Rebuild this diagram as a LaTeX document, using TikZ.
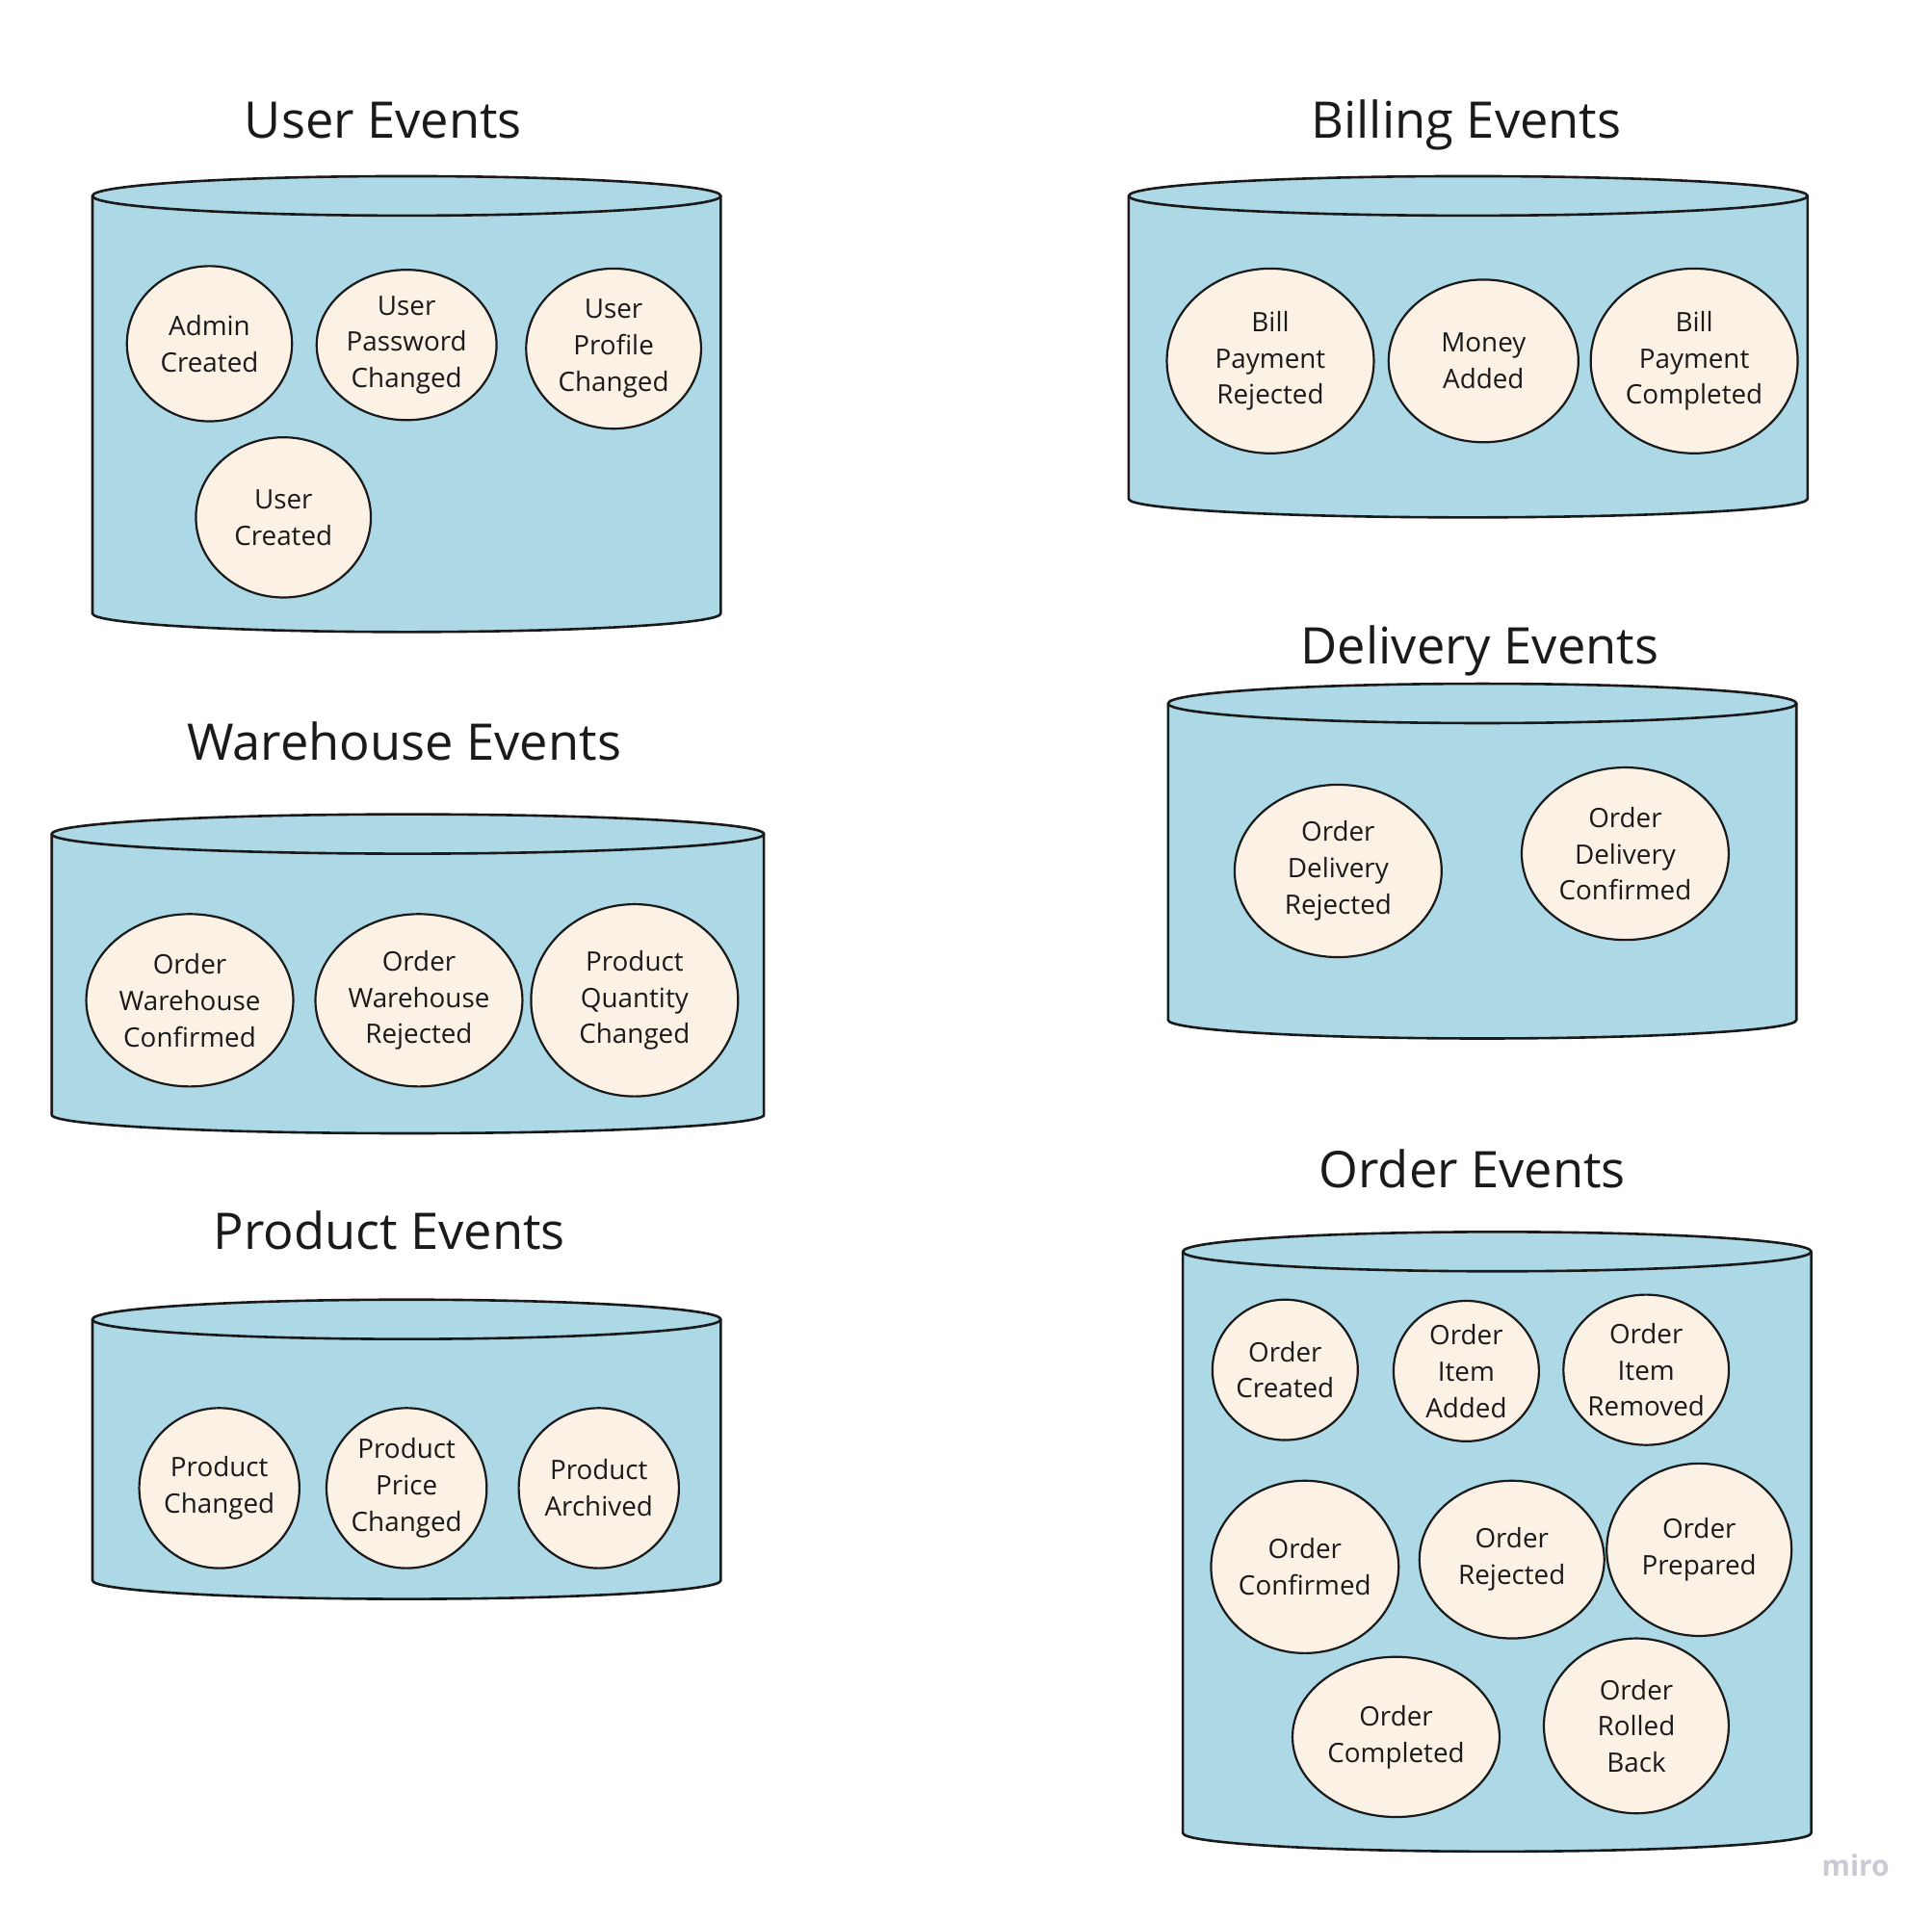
\documentclass[tikz,border=0pt]{standalone}
\usepackage{fontspec}
\setmainfont{Open Sans}
\usetikzlibrary{shapes.geometric}
\definecolor{cylfill}{HTML}{ADD8E6}
\definecolor{evfill}{HTML}{FBF1E4}
\definecolor{ink}{HTML}{1A1A1A}
\definecolor{wmgray}{HTML}{CACAD2}
\tikzset{
  cylstyle/.style={draw=ink, fill=cylfill, line width=1.3pt, line join=round},
  evnode/.style={ellipse, draw=ink, fill=evfill, line width=1.1pt, inner sep=0pt,
    align=center, text=ink, font=\fontsize{13.9pt}{18.9pt}\selectfont},
  ev/.style 2 args={minimum width={2*#1*0.6396pt}, minimum height={2*#2*0.6396pt}},
  titlenode/.style={text=ink, font=\fontsize{26.2pt}{31pt}\selectfont, inner sep=0pt,
    text height=0.76em, text depth=0.24em},
}
% #1 left, #2 right, #3 top-ellipse centre y, #4 bottom y
\newcommand\evstore[4]{%
  \path[cylstyle] (#1,#3) -- (#1,#4)
    .. controls (#1,{#4+8.28}) and ({(#1+#2)/2-0.552*(#2-#1)/2},{#4+15}) .. ({(#1+#2)/2},{#4+15})
    .. controls ({(#1+#2)/2+0.552*(#2-#1)/2},{#4+15}) and (#2,{#4+8.28}) .. (#2,#4)
    -- (#2,#3) -- cycle;
  \path[cylstyle] ({(#1+#2)/2},#3) ellipse [x radius={(#2-#1)/2}, y radius=16];
}
\begin{document}
\begin{tikzpicture}[x=0.6396pt, y=-0.6396pt]
\useasboundingbox[fill=white] (0,0) rectangle (1568,1558);

% ---------- User Events ----------
\node[titlenode] (tUser) at (311,108) {User Events};
\evstore{75}{585}{159}{498}
\node[evnode, ev={67}{63}] (adminCreated) at (170,279) {Admin\\Created};
\node[evnode, ev={73}{61}] (userPassword) at (330,280) {User\\Password\\Changed};
\node[evnode, ev={71}{65}] (userProfile) at (498,283) {User\\Profile\\Changed};
\node[evnode, ev={71}{65}] (userCreated) at (230,420) {User\\Created};

% ---------- Billing Events ----------
\node[titlenode] (tBilling) at (1190,108) {Billing Events};
\evstore{916}{1467}{159}{405}
\node[evnode, ev={84}{75}] (billRejected) at (1031,293) {Bill\\Payment\\Rejected};
\node[evnode, ev={77}{66}] (moneyAdded) at (1204,293) {Money\\Added};
\node[evnode, ev={84}{75}] (billCompleted) at (1375,293) {Bill\\Payment\\Completed};

% ---------- Warehouse Events ----------
\node[titlenode] (tWarehouse) at (328,613) {Warehouse Events};
\evstore{42}{620}{677}{905}
\node[evnode, ev={84}{70}] (owConfirmed) at (154,812) {Order\\Warehouse\\Confirmed};
\node[evnode, ev={84}{70}] (owRejected) at (340,812) {Order\\Warehouse\\Rejected};
\node[evnode, ev={84}{78}] (pqChanged) at (515,812) {Product\\Quantity\\Changed};

% ---------- Delivery Events ----------
\node[titlenode] (tDelivery) at (1201,535) {Delivery Events};
\evstore{948}{1458}{571}{828}
\node[evnode, ev={84}{70}] (odRejected) at (1086,707) {Order\\Delivery\\Rejected};
\node[evnode, ev={84}{70}] (odConfirmed) at (1319,693) {Order\\Delivery\\Confirmed};

% ---------- Product Events ----------
\node[titlenode] (tProduct) at (316,1010) {Product Events};
\evstore{75}{585}{1071}{1283}
\node[evnode, ev={65}{65}] (pChanged) at (178,1208) {Product\\Changed};
\node[evnode, ev={65}{65}] (ppChanged) at (330,1208) {Product\\Price\\Changed};
\node[evnode, ev={65}{65}] (pArchived) at (486,1208) {Product\\Archived};

% ---------- Order Events ----------
\node[titlenode] (tOrder) at (1195,960) {Order Events};
\evstore{960}{1470}{1016}{1488}
\node[evnode, ev={59}{57}] (oCreated) at (1043,1112) {Order\\Created};
\node[evnode, ev={59}{57}] (oItemAdded) at (1190,1113) {Order\\Item\\Added};
\node[evnode, ev={67}{61}] (oItemRemoved) at (1336,1112) {Order\\Item\\Removed};
\node[evnode, ev={75}{70}] (oConfirmed) at (1059,1272) {Order\\Confirmed};
\node[evnode, ev={75}{64}] (oRejected) at (1227,1266) {Order\\Rejected};
\node[evnode, ev={75}{70}] (oPrepared) at (1379,1258) {Order\\Prepared};
\node[evnode, ev={84}{65}] (oCompleted) at (1133,1410) {Order\\Completed};
\node[evnode, ev={75}{71}] (oRolledBack) at (1328,1401) {Order\\Rolled\\Back};

% ---------- watermark ----------
\node[text=wmgray, font=\fontsize{15pt}{18pt}\selectfont\bfseries, inner sep=0pt] (miro) at (1506,1514) {miro};
\end{tikzpicture}
\end{document}
